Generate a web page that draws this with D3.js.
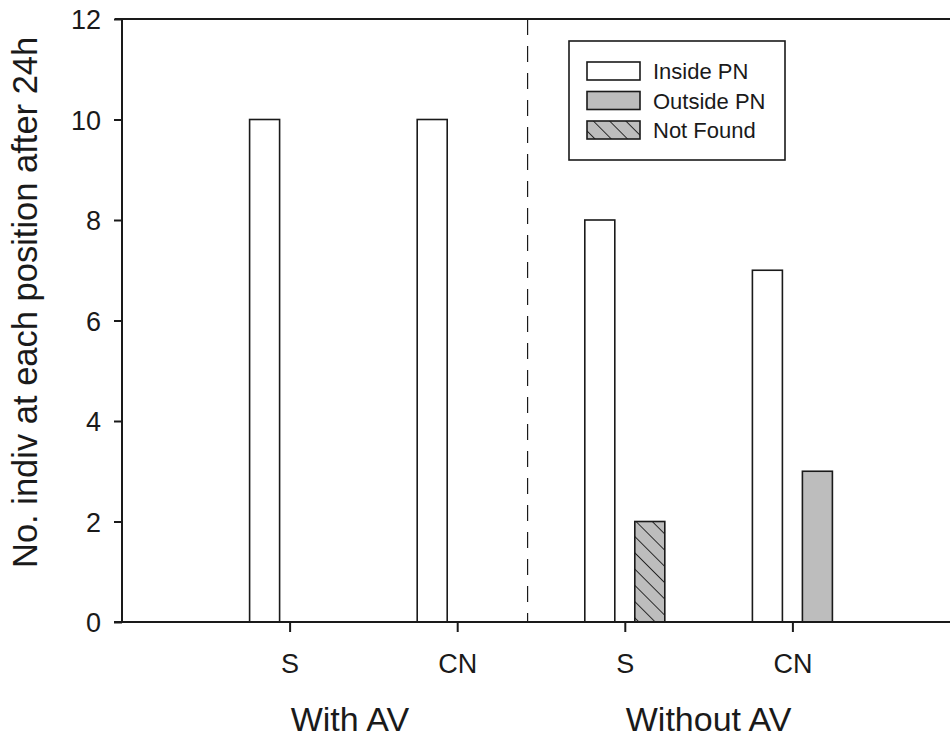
<!DOCTYPE html>
<html>
<head>
<meta charset="utf-8">
<script src="https://cdn.jsdelivr.net/npm/d3@7"></script>
<style>
  html, body { margin: 0; padding: 0; background: #fff; }
  svg { display: block; }
  text { font-family: "Liberation Sans", Arial, sans-serif; fill: #1a1a1a; }
</style>
</head>
<body>
<svg id="chart" width="950" height="743"></svg>
<script>
// ---- data ----
const categories = ["S", "CN", "S", "CN"];
const groups = ["With AV", "Without AV"];
const groupLabelAt = [1.36, 3.5]; // x position (category units) of group label centres
const insidePN = [10, 10, 8, 7];
const outsidePN = [0, 0, 0, 3];
const notFound = [0, 0, 2, 0];
const seriesNames = ["Inside PN", "Outside PN", "Not Found"];
const yTicks = [0, 2, 4, 6, 8, 10, 12];
const separatorAt = 2.42; // x position (category units) of dashed divider
const yLabel = "No. indiv at each position after 24h";
const yLabelAt = 6.36;    // y value at the centre of the axis title

(function () {
// ---- layout ----
const svg = d3.select("#chart");
const mLeft = 122, mTop = 19, mBottom = 622, mRight = 960;
const x = d3.scaleLinear().domain([0, 5]).range([mLeft, mRight]);
const y = d3.scaleLinear().domain([0, 12]).range([mBottom, mTop]);
const barW = 30;
const offset = 25;
const ink = "#1a1a1a";
const gray = "#bdbdbd";

const defs = svg.append("defs");
const pat = defs.append("pattern")
  .attr("id", "hatch").attr("patternUnits", "userSpaceOnUse")
  .attr("width", 11.5).attr("height", 11.5)
  .attr("patternTransform", "rotate(-45)");
pat.append("rect").attr("width", 11.5).attr("height", 11.5).attr("fill", gray);
pat.append("line").attr("x1", 0).attr("y1", 0).attr("x2", 0).attr("y2", 11.5)
  .attr("stroke", ink).attr("stroke-width", 1.8);

// top border
svg.append("line").attr("x1", mLeft - 7).attr("x2", 950)
  .attr("y1", y(12)).attr("y2", y(12)).attr("stroke", ink).attr("stroke-width", 2);

// dashed separator
svg.append("line").attr("x1", x(separatorAt)).attr("x2", x(separatorAt))
  .attr("y1", y(12)).attr("y2", y(0))
  .attr("stroke", ink).attr("stroke-width", 1.2).attr("stroke-dasharray", "16,11");

// bars
const idx = d3.range(categories.length);
const gBars = svg.append("g");
function bar(i, y0, y1, fill, dx) {
  if (y1 - y0 <= 0) return;
  gBars.append("rect")
    .attr("x", x(i + 1) + dx - barW / 2)
    .attr("y", y(y1))
    .attr("width", barW)
    .attr("height", y(y0) - y(y1))
    .attr("fill", fill)
    .attr("stroke", ink).attr("stroke-width", 1.6);
}
idx.forEach(i => {
  bar(i, 0, insidePN[i], "#fff", -offset);
  bar(i, 0, outsidePN[i], gray, offset);
  bar(i, outsidePN[i], outsidePN[i] + notFound[i], "url(#hatch)", offset);
});

// y axis
const yAxis = svg.append("g").attr("transform", `translate(${mLeft},0)`)
  .call(d3.axisLeft(y).tickValues(yTicks).tickSize(8).tickPadding(13).tickFormat(d3.format("d")));
yAxis.select(".domain").attr("stroke", ink).attr("stroke-width", 2).attr("d", `M0,${y(0)}V${y(12)}`);
yAxis.selectAll(".tick line").attr("stroke", ink).attr("stroke-width", 2);
yAxis.selectAll(".tick text").style("font-size", "27px").attr("fill", ink).attr("dy", "0.36em");

// x axis
const xAxis = svg.append("g").attr("transform", `translate(0,${mBottom})`)
  .call(d3.axisBottom(x).tickValues(idx.map(i => i + 1)).tickSize(10).tickPadding(22)
    .tickFormat((d) => categories[d - 1]));
xAxis.select(".domain").attr("stroke", ink).attr("stroke-width", 2).attr("d", `M${mLeft - 8},0H950`);
xAxis.selectAll(".tick line").attr("stroke", ink).attr("stroke-width", 2);
xAxis.selectAll(".tick text").style("font-size", "27px").attr("fill", ink);

// group labels
groups.forEach((g, gi) => {
  svg.append("text").attr("x", x(groupLabelAt[gi])).attr("y", 731)
    .attr("text-anchor", "middle").style("font-size", "34px").text(g);
});

// y label
svg.append("text")
  .attr("transform", `translate(37,${y(yLabelAt)}) rotate(-90)`)
  .attr("text-anchor", "middle").style("font-size", "34.5px").text(yLabel);

// legend
const lg = svg.append("g");
lg.append("rect").attr("x", 569).attr("y", 41).attr("width", 216).attr("height", 119)
  .attr("fill", "#fff").attr("stroke", ink).attr("stroke-width", 1.6);
const fills = ["#fff", gray, "url(#hatch)"];
seriesNames.forEach((s, k) => {
  const cy = 71 + k * 29.5;
  lg.append("rect").attr("x", 587).attr("y", cy - 9).attr("width", 53).attr("height", 18)
    .attr("fill", fills[k]).attr("stroke", ink).attr("stroke-width", 1.6);
  lg.append("text").attr("x", 653).attr("y", cy + 8).style("font-size", "22px").text(s);
});
})();
</script>
</body>
</html>
